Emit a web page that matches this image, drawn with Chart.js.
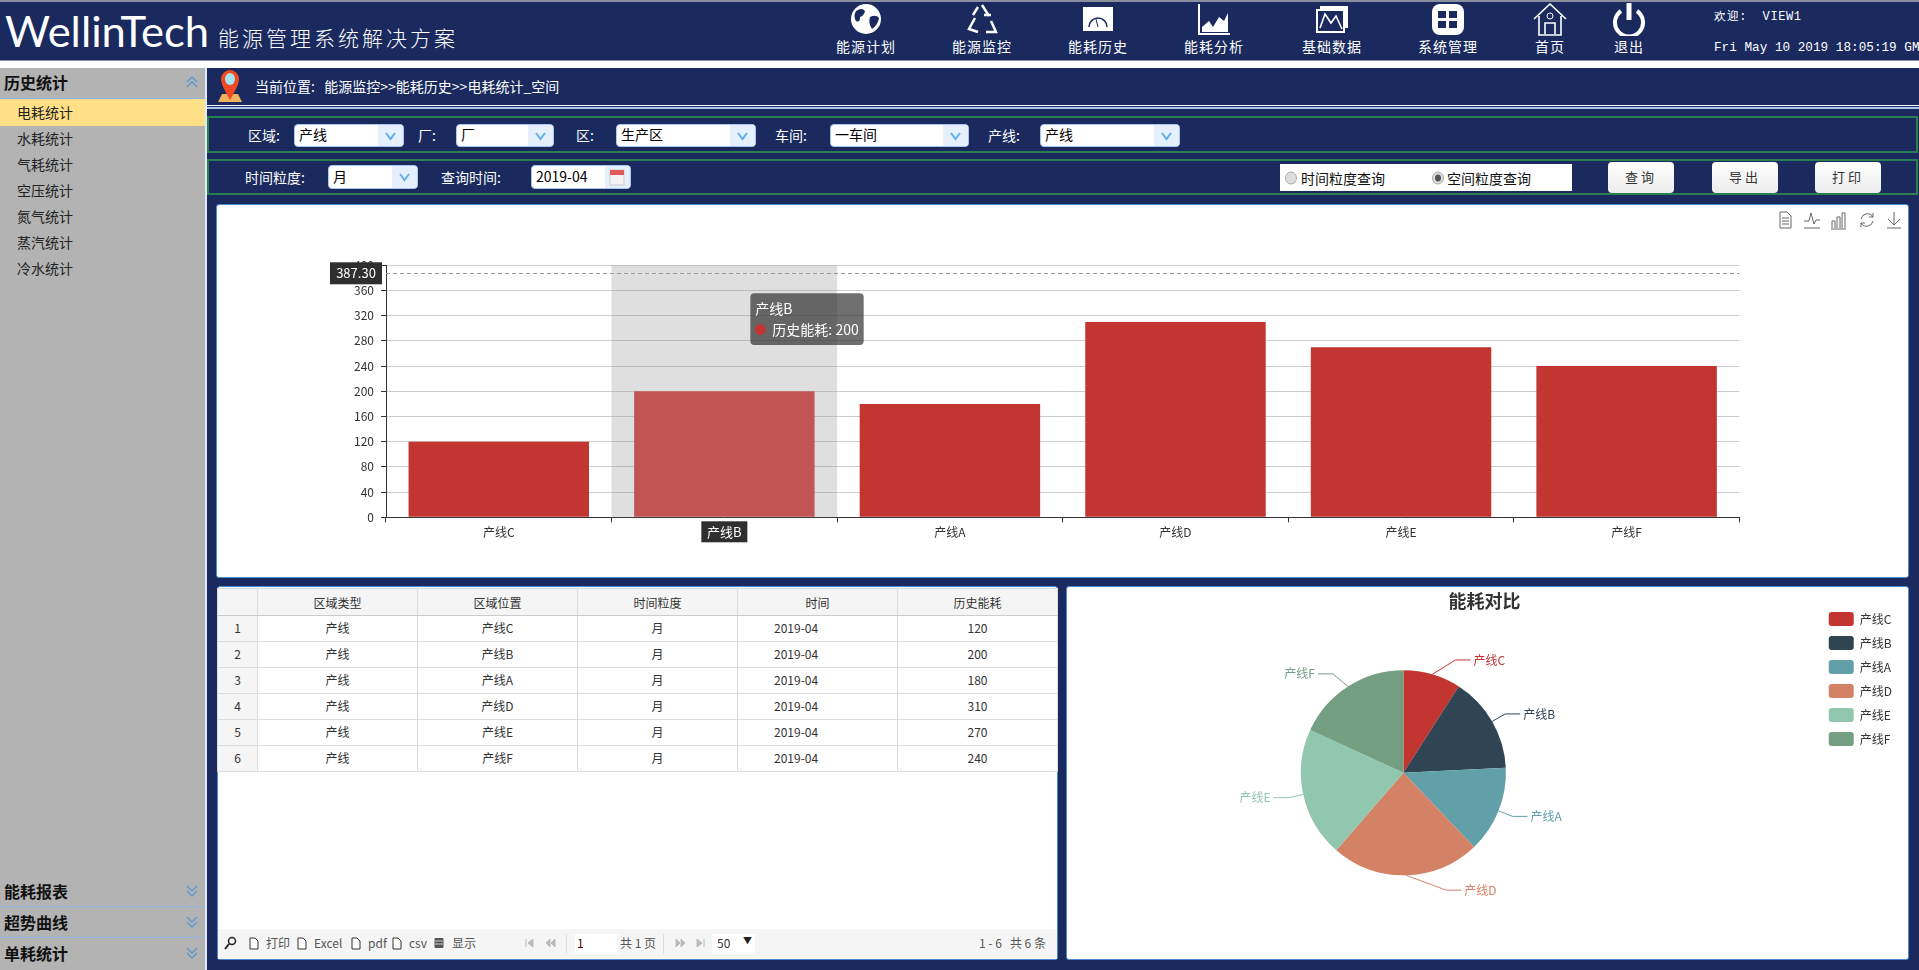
<!DOCTYPE html>
<html lang="zh">
<head>
<meta charset="utf-8">
<title>能源管理系统解决方案</title>
<script src="https://cdn.jsdelivr.net/npm/chart.js@4"></script>
<style>
html, body { margin: 0; padding: 0; }
body { width: 1919px; height: 970px; overflow: hidden; position: relative; background: #1a2a5e; font-family: "Noto Sans CJK SC", sans-serif; font-size: 12px; color: #333; }
.abs { position: absolute; }
.t { position: absolute; height: 20px; line-height: 20px; white-space: nowrap; }
.w { color: #fff; }
.card { position: absolute; background: #fff; border: 1px solid #4a8ccf; border-radius: 3px; box-sizing: border-box; }
.green { position: absolute; left: 207px; width: 1711px; box-sizing: border-box; border: 2px solid #2a7f50; }
.select { position: absolute; background: #fff; border: 1px solid #a9c6ee; border-radius: 4px; box-sizing: border-box; color: #000; font-size: 14px; overflow: hidden; }
.select span { position: absolute; left: 4px; top: -1px; }
.select i { position: absolute; right: 0; top: 0; bottom: 0; width: 25px; background: #e6f0fd; }
.select svg { position: absolute; right: 7px; top: 50%; margin-top: -5px; }
.btn { position: absolute; top: 162px; height: 31px; width: 66px; line-height: 30px; text-align: center; background: linear-gradient(#fff, #ececec); border-radius: 4px; color: #333; font-size: 13px; letter-spacing: 3px; }
.nav-label { font-size: 14px; letter-spacing: 1px; transform: translateX(-50%); }
table { border-collapse: collapse; table-layout: fixed; position: absolute; left: 217px; top: 588px; width: 840px; font-size: 12px; }
th, td { border: 1px solid #ddd; text-align: center; padding: 0; font-weight: normal; color: #333; overflow: hidden; }
th { height: 26px; background: #f5f5f5; border-bottom: 1px solid #ccc; }
td { height: 24px; padding-bottom: 1px; line-height: 22px; }
td.idx { background: #f5f5f5; }
td.time { text-align: left; padding-left: 36px; }
canvas { position: absolute; }
</style>
</head>
<body>
<div id="page"></div>
<canvas id="barChart" style="left:216px;top:205px;width:1693px;height:372px"></canvas>
<canvas id="pieChart" style="left:1067px;top:587px;width:842px;height:372px"></canvas>
<script>
// Dados do gráfico
const categorias = ['产线C', '产线B', '产线A', '产线D', '产线E', '产线F'];
const historicoEnergia = [120, 200, 180, 310, 270, 240];
const coresPizza = ['#c23531', '#2f4554', '#61a0a8', '#d48265', '#91c7ae', '#749f83'];
const nomeSerie = '历史能耗';
const eixoMax = 400;
const eixoPasso = 40;
const ponteiroValor = 387.30;
const indiceAtivo = 1;

// Textos da página
const menuTopo = ['能源计划', '能源监控', '能耗历史', '能耗分析', '基础数据', '系统管理', '首页', '退出'];
const menuLateral = ['电耗统计', '水耗统计', '气耗统计', '空压统计', '氮气统计', '蒸汽统计', '冷水统计'];
const menuRodape = ['能耗报表', '超势曲线', '单耗统计'];
const colunasTabela = ['区域类型', '区域位置', '时间粒度', '时间', '历史能耗'];

const page = document.getElementById('page');
let html = '';

function txt(x, cy, s, cls = '', extra = '') {
    html += `<div class="t ${cls}" style="left:${x}px;top:${cy - 10}px;${extra}">${s}</div>`;
}
function box(x, y, w, h, bg, extra = '') {
    html += `<div class="abs" style="left:${x}px;top:${y}px;width:${w}px;height:${h}px;background:${bg};${extra}"></div>`;
}
function svg(x, y, w, h, body) {
    html += `<svg class="abs" style="left:${x}px;top:${y}px" width="${w}" height="${h}" viewBox="0 0 ${w} ${h}">${body}</svg>`;
}
function select(x, y, w, h, s) {
    html += `<div class="select" style="left:${x}px;top:${y}px;width:${w}px;height:${h}px;line-height:${h - 2}px"><span>${s}</span><i></i>
        <svg width="11" height="10"><path d="M1 2 L5.5 8 L10 2" fill="none" stroke="#62b0ec" stroke-width="2"/></svg></div>`;
}
function divisa(x, y, up) {
    const d = up ? 'M1 6 L6 1 L11 6 M1 11 L6 6 L11 11' : 'M1 1 L6 6 L11 1 M1 6 L6 11 L11 6';
    svg(x, y, 12, 12, `<path d="${d}" fill="none" stroke="#5b9bd5" stroke-width="1.3"/>`);
}

// Cabeçalho
box(0, 0, 1919, 2, '#8a8f9e');
box(0, 60, 1919, 1, '#8c93a8');
box(0, 61, 1919, 7, '#fff');
svg(4, 8, 208, 48, `<text x="1" y="39" fill="#fff" font-family="Lato" font-size="43" textLength="204" lengthAdjust="spacingAndGlyphs">WellinTech</text>`);
txt(218, 37, '能源管理系统解决方案', 'w', 'font-size:21px;letter-spacing:3px;font-weight:300');

const topoX = [866, 982, 1098, 1214, 1332, 1448, 1550, 1629];
const icones = [
    '<circle cx="18" cy="16" r="15" fill="#fff"/><path d="M8 8 q6 -4 9 0 q-1 5 -5 6 q0 6 -4 4 q-3 -5 0 -10z M22 14 q6 -3 9 1 q-1 7 -7 11 q-4 -6 -2 -12z" fill="#1a2a5e"/>',
    '<path d="M18 2 L25 13 M20 12 L27 12 M11 15 L5 26 L14 29 M22 29 L32 29 L27 18" fill="none" stroke="#fff" stroke-width="2.5"/><path d="M14 4 L9 12" stroke="#fff" stroke-width="2.5"/>',
    '<rect x="3" y="4" width="30" height="24" fill="#fff"/><path d="M9 24 a9 9 0 0 1 18 0" fill="none" stroke="#1a2a5e" stroke-width="1.5"/><path d="M18 24 L16 16" stroke="#1a2a5e"/>',
    '<path d="M3 1 L3 31 L34 31" fill="none" stroke="#fff" stroke-width="2"/><path d="M6 29 L6 24 L13 18 L17 24 L23 14 L28 18 L32 10 L32 29z" fill="#fff"/>',
    '<rect x="6" y="3" width="28" height="22" fill="#fff"/><rect x="3" y="7" width="27" height="22" fill="#1a2a5e" stroke="#fff" stroke-width="2"/><path d="M6 25 L11 11 L17 20 L22 13 L28 26" fill="none" stroke="#fff" stroke-width="1.6"/>',
    '<rect x="2" y="1" width="32" height="31" rx="8" fill="#fff"/><path d="M8 8 L16 8 L16 15 L8 15z M19 8 L27 8 L27 15 L19 15z M8 18 L16 18 L16 25 L8 25z M19 18 L27 18 L27 25 L19 25z" fill="#1a2a5e"/>',
    '<path d="M2 16 L18 1 L34 16 M7 13 L7 32 L29 32 L29 13" fill="none" stroke="#fff" stroke-width="1.6"/><circle cx="18" cy="13" r="3" fill="none" stroke="#fff"/><path d="M13 31 L13 20 L23 20 L23 31" fill="none" stroke="#fff" stroke-width="1.6"/>',
    '<path d="M10 8 a14 14 0 1 0 16 0" fill="none" stroke="#fff" stroke-width="4"/><path d="M18 0 L18 17" stroke="#fff" stroke-width="5"/>'
];
menuTopo.forEach((label, i) => {
    svg(topoX[i] - 18, 3, 36, 33, icones[i]);
    txt(topoX[i], 46, label, 'w nav-label');
});
txt(1714, 17, '欢迎:&nbsp; VIEW1', 'w', 'font-family:\'Liberation Mono\';font-size:12px;letter-spacing:.6px');
txt(1714, 48, 'Fri May 10 2019 18:05:19 GMT', 'w', 'font-family:\'Liberation Mono\';font-size:12.7px');

// Menu lateral
box(0, 68, 205, 902, '#b3b3b3');
box(205, 68, 2, 902, '#dfe9f7');
box(0, 98, 205, 1, '#8fb4e0');
box(0, 99, 205, 27, '#ffe086');
txt(4, 82, '历史统计', '', 'font-size:16px;font-weight:700;color:#111');
divisa(186, 76, true);
menuLateral.forEach((s, i) => txt(17, 112 + i * 26, s, '', 'font-size:14px;color:#222'));
menuRodape.forEach((s, i) => {
    const cy = 891 + i * 30.8;
    txt(4, cy, s, '', 'font-size:16px;font-weight:700;color:#111');
    divisa(186, cy - 6, false);
    if (i < 2) box(0, Math.round(cy + 15), 205, 1, '#8fb4e0');
});

// Localização
svg(214, 69, 32, 35, '<path d="M4 33 L8 25 L24 25 L28 33z" fill="#f0b25a"/><path d="M16 31 C10 20 7 15 7 10 a9 9 0 0 1 18 0 C25 15 22 20 16 31z" fill="#ef4a23"/><ellipse cx="16" cy="10" rx="5" ry="6" fill="#a6e3ee"/>');
txt(255, 86, '当前位置:&nbsp;&nbsp;&nbsp;能源监控&gt;&gt;能耗历史&gt;&gt;电耗统计_空间', 'w', 'font-size:14px');
box(207, 105, 1712, 1, '#fff');
box(207, 107, 1712, 1.5, '#a9c6ee');

// Filtros
html += '<div class="green" style="top:116px;height:37px"></div><div class="green" style="top:159px;height:36px"></div>';
const f1 = 'font-size:14px';
txt(248, 135, '区域:', 'w', f1); select(294, 124, 110, 23, '产线');
txt(418, 135, '厂:', 'w', f1); select(456, 124, 98, 23, '厂');
txt(576, 135, '区:', 'w', f1); select(616, 124, 140, 23, '生产区');
txt(775, 135, '车间:', 'w', f1); select(830, 124, 139, 23, '一车间');
txt(988, 135, '产线:', 'w', f1); select(1040, 124, 140, 23, '产线');
txt(245, 177, '时间粒度:', 'w', f1); select(328, 165, 90, 24, '月');
txt(441, 177, '查询时间:', 'w', f1);
html += `<div class="select" style="left:531px;top:165px;width:100px;height:24px;line-height:22px"><span style="left:4px">2019-04</span><i style="width:25px"></i></div>`;
svg(609, 168, 16, 18, '<rect x="1" y="2" width="14" height="15" fill="#f4f4f4" stroke="#ccc"/><rect x="1" y="2" width="14" height="5" fill="#e25b5b"/>');
box(1280, 164, 292, 27, '#fff');
svg(1285, 171, 12, 14, '<ellipse cx="6" cy="7" rx="5.5" ry="6" fill="#ddd" stroke="#aaa"/>');
svg(1432, 171, 12, 14, '<ellipse cx="6" cy="7" rx="5.5" ry="6" fill="#ddd" stroke="#aaa"/><ellipse cx="6" cy="7" rx="3" ry="3.5" fill="#555"/>');
txt(1301, 178, '时间粒度查询', '', 'font-size:14px;color:#111');
txt(1447, 178, '空间粒度查询', '', 'font-size:14px;color:#111');
[['查询', 1608], ['导出', 1712], ['打印', 1815]].forEach(b => {
    html += `<div class="btn" style="left:${b[1]}px">${b[0]}</div>`;
});

// Cartões
html += '<div class="card" style="left:216px;top:204px;width:1693px;height:374px"></div>';
html += '<div class="card" style="left:217px;top:586px;width:841px;height:374px"></div>';
html += '<div class="card" style="left:1066px;top:586px;width:843px;height:374px"></div>';

// Ícones da caixa de ferramentas
const ferramentas = [
    '<path d="M4 1 L11 1 L15 5 L15 17 L4 17z M6 7 L13 7 M6 10 L13 10 M6 13 L13 13" fill="none" stroke="#666"/>',
    '<path d="M1 10 L6 10 L8 2 L11 13 L13 9 L17 9 M1 17 L17 17" fill="none" stroke="#666"/>',
    '<path d="M2 17 L2 10 L5 10 L5 17 M7 17 L7 6 L10 6 L10 17 M12 17 L12 2 L15 2 L15 17 M1 18 L16 18" fill="none" stroke="#666"/>',
    '<path d="M3 8 a6.5 6.5 0 0 1 12 -2 M15 10 a6.5 6.5 0 0 1 -12 2 M15 2 L15 6 L11 6 M3 16 L3 12 L7 12" fill="none" stroke="#666"/>',
    '<path d="M9 1 L9 13 M3 8 L9 14 L15 8 M2 17 L16 17" fill="none" stroke="#666"/>'
];
ferramentas.forEach((d, i) => svg(1776 + i * 27.2, 211, 18, 19, d));

// Tabela
html += `<table><colgroup><col style="width:40px">${colunasTabela.map(() => '<col style="width:160px">').join('')}</colgroup>
    <tr><th></th>${colunasTabela.map(c => `<th>${c}</th>`).join('')}</tr>
    ${categorias.map((c, i) => `<tr><td class="idx">${i + 1}</td><td>产线</td><td>${c}</td><td>月</td><td class="time">2019-04</td><td>${historicoEnergia[i]}</td></tr>`).join('')}
</table>`;

// Barra de paginação
box(218, 929, 839, 30, '#f5f5f5');
const pg = 943;
svg(224, pg - 7, 13, 14, '<circle cx="8" cy="5" r="3.5" fill="none" stroke="#222" stroke-width="1.5"/><path d="M5 8 L1 13" stroke="#222" stroke-width="2"/>');
[249, 297, 351, 392].forEach(x => svg(x, pg - 6, 10, 13, '<path d="M1 1 L6 1 L9 4 L9 12 L1 12z" fill="#fff" stroke="#333"/>'));
svg(434, pg - 6, 10, 12, '<rect x="0.5" y="1" width="9" height="10" fill="#555" rx="1"/><path d="M1 4 L9 4 M1 7 L9 7" stroke="#ccc"/>');
[['打印', 266], ['Excel', 314], ['pdf', 368], ['csv', 409], ['显示', 452]].forEach(p => txt(p[1], pg, p[0], '', 'color:#555'));
[[524, 'M2 1 L2 9 M9 1 L4 5 L9 9z'], [545, 'M5 1 L1 5 L5 9z M10 1 L6 5 L10 9z'], [675, 'M1 1 L5 5 L1 9z M6 1 L10 5 L6 9z'], [696, 'M1 1 L6 5 L1 9z M8 1 L8 9']].forEach(n => {
    svg(n[0], pg - 5, 11, 10, `<path d="${n[1]}" fill="#bbb" stroke="#bbb"/>`);
});
box(566, 934, 1, 20, '#ddd');
box(663, 934, 1, 20, '#ddd');
box(575, 934, 42, 20, '#fff');
box(712, 934, 43, 20, '#fff');
txt(577, pg, '1', '', 'color:#500');
txt(620, pg, '共 1 页', '', 'color:#555');
txt(717, pg, '50', '', 'color:#333');
txt(743, pg - 2, '▼', '', 'font-size:9px;color:#222');
txt(979, pg, '1 - 6 &nbsp; 共 6 条', '', 'color:#555');

page.innerHTML = html;

// Configuração global do Chart.js
Chart.defaults.font.family = '"Noto Sans CJK SC", sans-serif';
Chart.defaults.font.size = 12;
Chart.defaults.color = '#333';
Chart.defaults.animation = false;

// Posição do tooltip a partir do ponteiro
Chart.Tooltip.positioners.ponteiro = function (items, pos) {
    return { x: pos.x + 33, y: pos.y + 20 };
};

// Faixa cinza e linha do ponteiro
const ponteiroPlugin = {
    id: 'ponteiro',
    beforeDatasetsDraw(chart) {
        const { ctx, chartArea, scales } = chart;
        const bandW = scales.x.width / categorias.length;
        const cx = scales.x.getPixelForValue(indiceAtivo);
        ctx.save();
        ctx.fillStyle = 'rgba(150,150,150,0.3)';
        ctx.fillRect(cx - bandW / 2, chartArea.top, bandW, chartArea.height);
        ctx.restore();
    },
    afterDatasetsDraw(chart) {
        const { ctx, chartArea, scales } = chart;
        const y = Math.round(scales.y.getPixelForValue(ponteiroValor)) + 0.5;
        ctx.save();
        ctx.strokeStyle = '#999';
        ctx.setLineDash([4, 3]);
        ctx.beginPath();
        ctx.moveTo(chartArea.left, y);
        ctx.lineTo(chartArea.right, y);
        ctx.stroke();
        ctx.restore();
    },
    afterDraw(chart) {
        const { ctx, chartArea, scales } = chart;
        const etiqueta = (x, y, w, h, s) => {
            ctx.fillStyle = '#2f2f2f';
            ctx.fillRect(x, y, w, h);
            ctx.fillStyle = '#fff';
            ctx.font = '13px "Noto Sans CJK SC"';
            ctx.textAlign = 'center';
            ctx.textBaseline = 'middle';
            ctx.fillText(s, x + w / 2, y + h / 2);
        };
        ctx.save();
        etiqueta(chartArea.left - 56, scales.y.getPixelForValue(ponteiroValor) - 11, 52, 22, ponteiroValor.toFixed(2));
        etiqueta(scales.x.getPixelForValue(indiceAtivo) - 23, chartArea.bottom + 4, 46, 21, categorias[indiceAtivo]);
        ctx.restore();
    }
};

const barChart = new Chart(document.getElementById('barChart'), {
    type: 'bar',
    data: {
        labels: categorias,
        datasets: [{
            label: nomeSerie,
            data: historicoEnergia,
            backgroundColor: categorias.map((c, i) => i === indiceAtivo ? '#c25553' : '#c23531'),
            hoverBackgroundColor: categorias.map((c, i) => i === indiceAtivo ? '#c25553' : '#c23531'),
            categoryPercentage: 0.8,
            barPercentage: 1
        }]
    },
    options: {
        responsive: false,
        layout: { padding: { left: 100, right: 169.6, top: 60.3, bottom: 29.7 } },
        plugins: {
            legend: { display: false },
            tooltip: {
                position: 'ponteiro',
                xAlign: 'left',
                yAlign: 'top',
                caretSize: 0,
                caretPadding: 0,
                cornerRadius: 4,
                backgroundColor: 'rgba(50,50,50,0.7)',
                padding: { left: 5, right: 5, top: 7, bottom: 7 },
                titleFont: { size: 14, weight: 'normal' },
                bodyFont: { size: 14 },
                titleMarginBottom: 4,
                usePointStyle: true,
                boxWidth: 10,
                boxHeight: 10,
                boxPadding: 5,
                multiKeyBackground: 'transparent',
                callbacks: {
                    labelColor: () => ({ borderColor: '#c23531', backgroundColor: '#c23531' }),
                    labelPointStyle: () => ({ pointStyle: 'circle', rotation: 0 })
                }
            }
        },
        scales: {
            x: {
                afterFit(scale) { scale.height = 30; },
                border: { color: '#333' },
                grid: { drawOnChartArea: false, tickLength: 5, tickColor: '#333' },
                ticks: { padding: 3, color: '#333', maxRotation: 0 }
            },
            y: {
                min: 0,
                max: eixoMax,
                afterFit(scale) { scale.width = 70; },
                border: { color: '#333' },
                grid: { color: '#ccc', tickLength: 5, tickColor: '#333' },
                ticks: { stepSize: eixoPasso, padding: 7, color: '#333' }
            }
        }
    },
    plugins: [ponteiroPlugin]
});

barChart.tooltip.setActiveElements([{ datasetIndex: 0, index: indiceAtivo }], {
    x: barChart.scales.x.getPixelForValue(indiceAtivo) - 3,
    y: barChart.scales.y.getPixelForValue(ponteiroValor)
});
barChart.draw();

// Centro da pizza deslocado em relação ao título e à legenda
const centroPizzaPlugin = {
    id: 'centroPizza',
    afterLayout(chart) {
        const area = chart.chartArea;
        const dx = 336.4 - (area.left + area.right) / 2;
        const dy = 185.7 - (area.top + area.bottom) / 2;
        area.left += dx;
        area.right += dx;
        area.top += dy;
        area.bottom += dy;
    }
};

// Rótulos com linha de chamada
const desvioLinha = [19, 0, 0, 40, 0, -7];
const rotulosPlugin = {
    id: 'rotulosPizza',
    afterDatasetsDraw(chart) {
        const { ctx } = chart;
        chart.getDatasetMeta(0).data.forEach((arc, i) => {
            const a = (arc.startAngle + arc.endAngle) / 2;
            const dx = Math.cos(a);
            const dy = Math.sin(a);
            const r = arc.outerRadius;
            const x1 = arc.x + dx * r;
            const y1 = arc.y + dy * r;
            const x2 = arc.x + dx * (r + 15) + desvioLinha[i];
            const y2 = arc.y + dy * (r + 15);
            const dir = dx >= 0 ? 1 : -1;
            const x3 = x2 + dir * 15;
            ctx.save();
            ctx.strokeStyle = coresPizza[i];
            ctx.lineWidth = 1;
            ctx.beginPath();
            ctx.moveTo(x1, y1);
            ctx.lineTo(x2, y2);
            ctx.lineTo(x3, y2);
            ctx.stroke();
            ctx.fillStyle = coresPizza[i];
            ctx.font = '12px "Noto Sans CJK SC"';
            ctx.textBaseline = 'middle';
            ctx.textAlign = dir > 0 ? 'left' : 'right';
            ctx.fillText(categorias[i], x3 + dir * 3, y2);
            ctx.restore();
        });
    }
};

new Chart(document.getElementById('pieChart'), {
    type: 'pie',
    data: {
        labels: categorias,
        datasets: [{
            data: historicoEnergia,
            backgroundColor: coresPizza,
            borderWidth: 0,
            radius: 102.5
        }]
    },
    options: {
        responsive: false,
        layout: { padding: { top: 15, right: 7, bottom: 6 } },
        plugins: {
            title: {
                display: true,
                text: '能耗对比',
                color: '#333',
                font: { size: 18, weight: 'bold' },
                padding: { top: -12, bottom: 20 }
            },
            legend: {
                position: 'right',
                align: 'start',
                labels: { boxWidth: 25, boxHeight: 14, padding: 10, useBorderRadius: true, borderRadius: 3, color: '#333' }
            },
            tooltip: { enabled: false }
        }
    },
    plugins: [centroPizzaPlugin, rotulosPlugin]
});
</script>
</body>
</html>
